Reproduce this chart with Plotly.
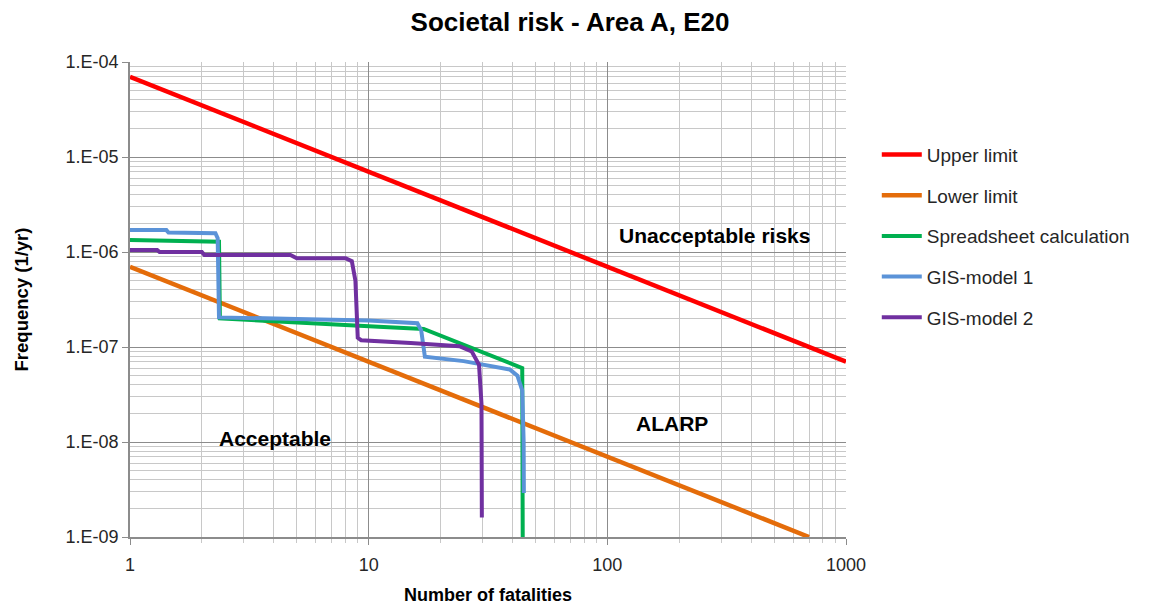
import plotly.graph_objects as go
import math

# ---- data ----
upper_N = [1, 1000]
upper_F = [7e-5, 7e-8]

lower_N = [1, 700]
lower_F = [7e-7, 1e-9]

sheet_N = [1, 2.31, 2.36, 2.38, 5, 11, 17, 44, 44.2]
sheet_F = [1.34e-6, 1.30e-6, 1.28e-6, 2.0e-7, 1.8e-7, 1.63e-7, 1.55e-7, 6.0e-8, 1e-9]

gis1_N = [1, 1.42, 1.45, 2.28, 2.33, 2.36, 5, 10, 16, 16.6, 17.2, 25, 39, 42, 44, 44.6, 44.7]
gis1_F = [1.7e-6, 1.7e-6, 1.6e-6, 1.58e-6, 1.4e-6, 2.05e-7, 1.97e-7, 1.9e-7, 1.78e-7, 1.5e-7, 7.9e-8, 7.1e-8, 5.8e-8, 5.0e-8, 3.5e-8, 1e-8, 2.9e-9]

gis2_N = [1, 1.3, 1.33, 2.0, 2.05, 4.7, 5.0, 8.0, 8.5, 8.8, 9.0, 9.3, 15, 24, 27, 29, 29.7, 29.8]
gis2_F = [1.05e-6, 1.05e-6, 1.0e-6, 1.0e-6, 9.3e-7, 9.3e-7, 8.6e-7, 8.6e-7, 8.0e-7, 5.0e-7, 1.25e-7, 1.18e-7, 1.1e-7, 1.02e-7, 9.0e-8, 6.5e-8, 2.5e-8, 1.6e-9]

series_names = ["Upper limit", "Lower limit", "Spreadsheet calculation", "GIS-model 1", "GIS-model 2"]
series_colors = ["#FF0000", "#E46C0A", "#00B050", "#5B93D8", "#7030A0"]

x_tickvals = [1, 10, 100, 1000]
x_ticktext = ["1", "10", "100", "1000"]
y_tickvals = [1e-9, 1e-8, 1e-7, 1e-6, 1e-5, 1e-4]
y_ticktext = ["1.E-09", "1.E-08", "1.E-07", "1.E-06", "1.E-05", "1.E-04"]

region_labels = ["Unacceptable risks", "ALARP", "Acceptable"]
region_x = [282, 187, 4.05]
region_y = [1.5e-6, 1.58e-8, 1.1e-8]

FONT = "Liberation Sans, Arial, sans-serif"
TXT = "#262626"

fig = go.Figure()
all_series = [(upper_N, upper_F), (lower_N, lower_F), (sheet_N, sheet_F), (gis1_N, gis1_F), (gis2_N, gis2_F)]
for i, ((xs, ys), name, col) in enumerate(zip(all_series, series_names, series_colors)):
    fig.add_trace(go.Scatter(x=xs, y=ys, mode="lines", name=name,
                             line=dict(color=col, width=4.5 if i < 2 else 4),
                             legendgroup=str(i)))

x_minor = [m * 10 ** d for d in range(0, 3) for m in range(2, 10)]
y_minor = [m * 10 ** d for d in range(-9, -4) for m in range(2, 10)]

fig.update_xaxes(type="log", range=[0, 3], tickvals=x_tickvals, ticktext=x_ticktext,
                 showgrid=True, gridcolor="#8c8c8c", gridwidth=1,
                 showline=True, linecolor="#8c8c8c", linewidth=1.5,
                 ticks="outside", ticklen=6, tickcolor="#8c8c8c", ticklabelstandoff=5,
                 minor=dict(tickvals=x_minor, showgrid=True, gridcolor="#c8c8c8", gridwidth=1,
                            ticks="outside", ticklen=4, tickcolor="#c8c8c8"),
                 tickfont=dict(size=18, color=TXT, family=FONT),
                 title=dict(text="<b>Number of fatalities</b>", font=dict(size=18, family=FONT, color="#000"), standoff=14),
                 zeroline=False, mirror=False)
fig.update_yaxes(type="log", range=[-9, -4], tickvals=y_tickvals, ticktext=y_ticktext,
                 showgrid=True, gridcolor="#8c8c8c", gridwidth=1,
                 showline=True, linecolor="#8c8c8c", linewidth=1.5,
                 ticks="outside", ticklen=6, tickcolor="#8c8c8c",
                 minor=dict(tickvals=y_minor, showgrid=True, gridcolor="#c8c8c8", gridwidth=1),
                 tickfont=dict(size=18, color=TXT, family=FONT),
                 title=dict(text="<b>Frequency (1/yr)</b>", font=dict(size=18.5, family=FONT, color="#000"), standoff=32),
                 zeroline=False)

for txt, xv, yv in zip(region_labels, region_x, region_y):
    fig.add_annotation(x=math.log10(xv), y=math.log10(yv), text="<b>" + txt + "</b>", showarrow=False,
                       font=dict(size=21, family=FONT, color="#000"), xref="x", yref="y")

fig.update_layout(
    width=1148, height=605,
    margin=dict(l=122, r=310, t=54, b=76),
    paper_bgcolor="white", plot_bgcolor="white",
    title=dict(text="<b>Societal risk - Area A, E20</b>", x=562 / 1148, xanchor="center", y=1 - 14 / 605, yanchor="middle",
               font=dict(size=26, family=FONT, color="#000")),
    legend=dict(x=1.043, xanchor="left", y=0.845, yanchor="top", tracegroupgap=13,
                font=dict(size=19, family=FONT, color=TXT), bgcolor="rgba(0,0,0,0)", itemwidth=40),
    showlegend=True,
)

fig.write_html("out.html")
